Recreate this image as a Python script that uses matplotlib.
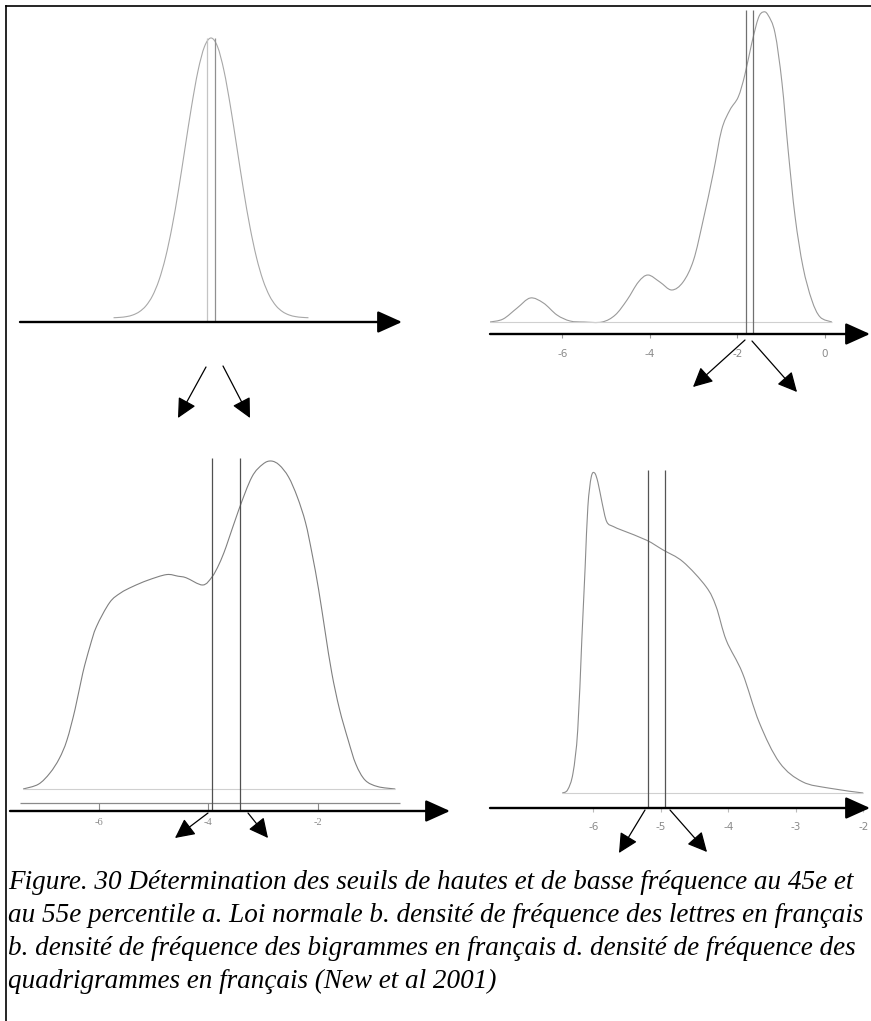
import matplotlib
matplotlib.use("Agg")
import matplotlib.pyplot as plt
from matplotlib.path import Path
from matplotlib.patches import PathPatch

W, H = 871, 1021

# a. loi normale
norm_x = [-3.75, -3.5, -3.25, -3.0, -2.75, -2.5, -2.25, -2.0, -1.75, -1.5, -1.25, -1.0,
          -0.75, -0.5, -0.25, 0.0, 0.25, 0.5, 0.75, 1.0, 1.25, 1.5, 1.75, 2.0, 2.25,
          2.5, 2.75, 3.0, 3.25, 3.5, 3.75]
norm_y = [0.0004, 0.0009, 0.0020, 0.0044, 0.0091, 0.0175, 0.0317, 0.0540, 0.0863, 0.1295,
          0.1826, 0.2420, 0.3011, 0.3521, 0.3867, 0.3989, 0.3867, 0.3521, 0.3011, 0.2420,
          0.1826, 0.1295, 0.0863, 0.0540, 0.0317, 0.0175, 0.0091, 0.0044, 0.0020, 0.0009,
          0.0004]
norm_pct = [-0.17, 0.17]

# b. lettres
lett_x = [-7.65, -7.35, -7.03, -6.73, -6.43, -6.12, -5.82, -5.5, -5.09, -4.79, -4.52, -4.26,
          -4.04, -3.77, -3.5, -3.24, -3.0, -2.78, -2.55, -2.36, -2.17, -1.98, -1.83, -1.67,
          -1.52, -1.41, -1.30, -1.14, -0.98, -0.84, -0.68, -0.50, -0.30, -0.11, 0.16]
lett_y = [0.0, 0.006, 0.028, 0.048, 0.038, 0.014, 0.002, 0.0, 0.0, 0.014, 0.044, 0.080,
          0.094, 0.080, 0.064, 0.080, 0.124, 0.204, 0.298, 0.384, 0.424, 0.450, 0.494, 0.558,
          0.608, 0.620, 0.614, 0.578, 0.478, 0.344, 0.210, 0.110, 0.044, 0.010, 0.0]
lett_pct = [-1.80, -1.64]
lett_ticks = [-6, -4, -2, 0]

# c. bigrammes
bigr_x = [-7.38, -7.1, -6.89, -6.72, -6.58, -6.43, -6.29, -6.16, -6.04, -5.8, -5.6, -5.38,
          -5.1, -4.76, -4.55, -4.4, -4.1, -3.93, -3.8, -3.67, -3.44, -3.2, -3.0, -2.85,
          -2.7, -2.53, -2.37, -2.22, -2.1, -1.98, -1.86, -1.74, -1.6, -1.44, -1.3, -1.13,
          -0.9, -0.58]
bigr_y = [0.0, 0.006, 0.020, 0.038, 0.061, 0.100, 0.145, 0.178, 0.203, 0.233, 0.245, 0.253,
          0.261, 0.268, 0.266, 0.264, 0.255, 0.265, 0.281, 0.303, 0.349, 0.390, 0.406, 0.410,
          0.405, 0.390, 0.365, 0.333, 0.294, 0.249, 0.196, 0.145, 0.100, 0.061, 0.031, 0.011,
          0.003, 0.0]
bigr_pct = [-3.93, -3.42]
bigr_ticks = [-6, -4, -2]

# d. quadrigrammes
quad_x = [-6.46, -6.38, -6.30, -6.23, -6.17, -6.12, -6.08, -6.03, -5.98, -5.93, -5.87, -5.8,
          -5.7, -5.56, -5.21, -4.97, -4.67, -4.33, -4.18, -4.03, -3.79, -3.54, -3.24, -2.9,
          -2.5, -2.0]
quad_y = [0.0, 0.004, 0.025, 0.079, 0.191, 0.283, 0.358, 0.395, 0.400, 0.388, 0.363, 0.339,
          0.333, 0.328, 0.316, 0.304, 0.289, 0.258, 0.233, 0.191, 0.150, 0.088, 0.038, 0.014,
          0.006, 0.0]
quad_pct = [-5.19, -4.94]
quad_ticks = [-6, -5, -4, -3, -2]

caption = [
    "Figure. 30 Détermination des seuils de hautes et de basse fréquence au 45e et",
    "au 55e percentile a. Loi normale b. densité de fréquence des lettres en français",
    "b. densité de fréquence des bigrammes en français d. densité de fréquence des",
    "quadrigrammes en français (New et al 2001)",
]

fig = plt.figure(figsize=(W / 100, H / 100), dpi=100)


def panel(x0, x1, axis_y, top_y, xlim, gap, yscale):
    # box in pixels, bottom edge on the arrow axis
    ax = fig.add_axes([x0 / W, 1 - axis_y / H, (x1 - x0) / W, (axis_y - top_y) / H])
    ax.set_xlim(xlim)
    ax.set_ylim(-gap / yscale, (axis_y - top_y - gap) / yscale)
    for s in ax.spines.values():
        s.set_visible(False)
    ax.set_yticks([])
    ax.set_xticks([])
    ax.patch.set_visible(False)
    ax.annotate("", xy=(1, 0), xytext=(0, 0), xycoords="axes fraction",
                arrowprops=dict(arrowstyle="-|>,head_length=1.0,head_width=0.45",
                                mutation_scale=15, lw=1.7, color="black",
                                shrinkA=0, shrinkB=0), annotation_clip=False)
    return ax


def density(ax, xs, ys, color):
    # smooth curve through the points (Catmull-Rom as cubic Bezier)
    pts = list(zip(xs, ys))
    n = len(pts)
    verts = [pts[0]]
    codes = [Path.MOVETO]
    for i in range(n - 1):
        p0 = pts[max(i - 1, 0)]
        p1 = pts[i]
        p2 = pts[i + 1]
        p3 = pts[min(i + 2, n - 1)]
        c1 = (p1[0] + (p2[0] - p0[0]) / 6, p1[1] + (p2[1] - p0[1]) / 6)
        c2 = (p2[0] - (p3[0] - p1[0]) / 6, p2[1] - (p3[1] - p1[1]) / 6)
        verts += [c1, c2, p2]
        codes += [Path.CURVE4] * 3
    ax.add_patch(PathPatch(Path(verts, codes), fill=False, edgecolor=color, lw=0.8))


def ticks(ax, pos, direction, length, pad, family, color="#999999"):
    ax.set_xticks(pos)
    ax.set_xticklabels([str(p) for p in pos], fontfamily=family)
    ax.tick_params(axis="x", direction=direction, length=length, width=0.8, color=color,
                   labelsize=7.5, labelcolor="#8a8a8a", pad=pad)


# a
ax = panel(20, 402, 322, 30, (-7.35, 7.35), 4, 702)
density(ax, norm_x, norm_y, "#a8a8a8")
ax.vlines(norm_pct[0], ax.get_ylim()[0], max(norm_y), color="#c4c4c4", lw=0.9)
ax.vlines(norm_pct[1], ax.get_ylim()[0], max(norm_y), color="#909090", lw=0.9)

# b
ax = panel(490, 870, 334, 8, (-7.65, 1.03), 12, 500)
ax.hlines(0, lett_x[0], lett_x[-1], color="#d0d0d0", lw=0.8)
density(ax, lett_x, lett_y, "#9a9a9a")
ax.vlines(lett_pct, ax.get_ylim()[0], 0.624, color="#707070", lw=0.9)
ticks(ax, lett_ticks, "out", 3, 8, "DejaVu Sans")

# c
ax = panel(10, 450, 811, 455, (-7.62, 0.42), 22, 800)
ax.hlines(0, bigr_x[0], bigr_x[-1], color="#d0d0d0", lw=0.8)
ax.hlines(-14 / 800, -7.43, -0.49, color="#8a8a8a", lw=0.9)
density(ax, bigr_x, bigr_y, "#808080")
ax.vlines(bigr_pct, ax.get_ylim()[0], 0.414, color="#505050", lw=0.9)
ticks(ax, bigr_ticks, "in", 6, 5, "Liberation Serif", color="#8a8a8a")

# d
ax = panel(490, 870, 808, 465, (-7.53, -1.90), 15, 800)
ax.hlines(0, quad_x[0], quad_x[-1], color="#d0d0d0", lw=0.8)
density(ax, quad_x, quad_y, "#8c8c8c")
ax.vlines(quad_pct, ax.get_ylim()[0], 0.404, color="#555555", lw=0.9)
ticks(ax, quad_ticks, "out", 3, 7, "DejaVu Sans", color="#bbbbbb")

# overlay in pixel units: frame and the split arrows
deco = fig.add_axes([0, 0, 1, 1])
deco.set_xlim(0, W)
deco.set_ylim(H, 0)
deco.axis("off")
deco.plot([6, W], [6, 6], color="black", lw=1.2, solid_capstyle="projecting")
deco.plot([6, 6], [6, H], color="black", lw=1.2, solid_capstyle="projecting")

splits = [
    ((206, 367), (178, 418)), ((223, 366), (250, 418)),
    ((745, 340), (693, 387)), ((752, 341), (797, 392)),
    ((208, 813), (175, 838)), ((248, 813), (268, 838)),
    ((645, 810), (619, 853)), ((670, 810), (707, 852)),
]
for tail, tip in splits:
    deco.annotate("", xy=tip, xytext=tail,
                  arrowprops=dict(arrowstyle="-|>,head_length=1.0,head_width=0.5",
                                  mutation_scale=12, lw=0.9, color="black",
                                  shrinkA=0, shrinkB=0))

# caption, sized so the longest line fills the width
texts = []
for i, line in enumerate(caption):
    t = fig.text(8 / W, 1 - (889 + 33 * i) / H, line, fontfamily="Liberation Serif",
                 fontstyle="italic", fontsize=16, va="baseline", ha="left")
    texts.append(t)
fig.canvas.draw()
r = fig.canvas.get_renderer()
wmax = max(t.get_window_extent(r).width for t in texts)
for t in texts:
    t.set_fontsize(16 * 858 / wmax)

fig.savefig("out.png", dpi=100)
